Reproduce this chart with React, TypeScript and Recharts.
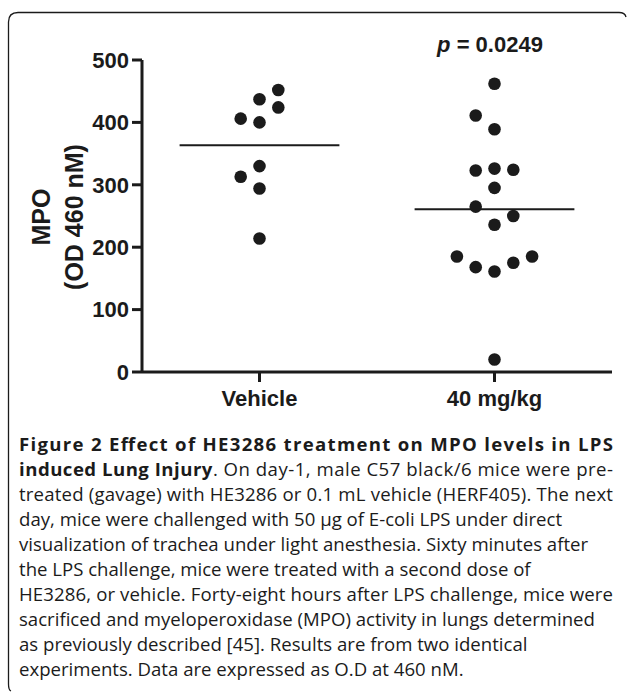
import React from 'react';
import { ScatterChart, Scatter, XAxis, YAxis, ReferenceLine } from 'recharts';

// ---- data ----
const groups = ['Vehicle', '40 mg/kg'];
const yTicks = [0, 100, 200, 300, 400, 500];
const vehicleMPO = [452, 437, 424, 406, 400, 330, 313, 294, 214];
const vehicleSlot = [1, 0, 1, -1, 0, 0, -1, 0, 0];
const treatedMPO = [462, 411, 389, 323, 326, 324, 295, 265, 250, 236, 185, 168, 161, 175, 185, 20];
const treatedSlot = [0, -1, 0, -1, 0, 1, 0, -1, 1, 0, -2, -1, 0, 1, 2, 0];
const pValue = '0.0249';
const yLabelLines = ['MPO', '(OD 460 nM)'];
const captionBoldLead = ['Figure 2 Effect of HE3286 treatment on MPO levels in LPS', 'induced Lung Injury'];
const captionLines = [
  '. On day-1, male C57 black/6 mice were pre-',
  'treated (gavage) with HE3286 or 0.1 mL vehicle (HERF405). The next',
  'day, mice were challenged with 50 \u00b5g of E-coli LPS under direct',
  'visualization of trachea under light anesthesia. Sixty minutes after',
  'the LPS challenge, mice were treated with a second dose of',
  'HE3286, or vehicle. Forty-eight hours after LPS challenge, mice were',
  'sacrificed and myeloperoxidase (MPO) activity in lungs determined',
  'as previously described [45]. Results are from two identical',
  'experiments. Data are expressed as O.D at 460 nM.',
];

// ---- style ----
const INK = '#1b1b1b';
const FONT = '"Liberation Sans", Arial, Helvetica, sans-serif';
const CAP_FONT = '"Open Sans", "Noto Sans", sans-serif';
const SLOT = 0.08;
const HALF = 0.34;

const toPoints = (vals: number[], slots: number[], g: number) =>
  vals.map((v, i) => ({ x: g + 1 + slots[i] * SLOT, y: v }));
const mean = (a: number[]) => a.reduce((s, v) => s + v, 0) / a.length;

const Dot = (props: any) => <circle cx={props.cx} cy={props.cy} r={6.3} fill={INK} />;

const vehiclePts = toPoints(vehicleMPO, vehicleSlot, 0);
const treatedPts = toPoints(treatedMPO, treatedSlot, 1);
const means = [mean(vehicleMPO), mean(treatedMPO)];

// caption layout: which lines are justified to full width
const justified: Record<number, boolean> = { 0: true, 1: true, 2: true, 6: true };

export default function App() {
  const capX = 19;
  const capFull = 594;
  const base0 = 451;
  const lh = 25;
  return (
    <div style={{ position: 'absolute', left: 0, top: 0, width: 627, height: 692, background: '#fff' }}>
      <svg width={627} height={692} style={{ position: 'absolute', left: 0, top: 0 }}>
        <path
          d="M 11 691 Q 8.5 690 8.5 684 L 8.5 22 Q 8.5 12.5 18 12.5 L 619 12.5 Q 625 12.5 626 17"
          fill="none"
          stroke={INK}
          strokeWidth={1.3}
        />
        <text x={490} y={52} textAnchor="middle" fontFamily={FONT} fontWeight={700} fontSize={22} fill={INK}>
          <tspan fontStyle="italic">p</tspan> = {pValue}
        </text>
        {yLabelLines.map((t, i) => (
          <text
            key={t}
            x={41 + i * 33}
            y={217}
            transform={`rotate(-90, ${41 + i * 33}, 217)`}
            textAnchor="middle"
            dy="0.36em"
            fontFamily={FONT}
            fontWeight={700}
            fontSize={25}
            fill={INK}
          >
            {t}
          </text>
        ))}
        <text
          x={capX}
          y={base0}
          fontFamily={CAP_FONT}
          fontWeight={700}
          fontSize={18.6}
          fill={INK}
          textLength={capFull}
          lengthAdjust="spacing"
        >
          {captionBoldLead[0]}
        </text>
        {captionLines.map((t, i) => (
          <text
            key={i}
            x={capX}
            y={base0 + (i + 1) * lh}
            fontFamily={CAP_FONT}
            fontSize={18.6}
            fill={INK}
            {...(justified[i + 1] ? { textLength: capFull, lengthAdjust: 'spacing' } : {})}
          >
            {i === 0 ? <tspan fontWeight={700}>{captionBoldLead[1]}</tspan> : null}
            {t}
          </text>
        ))}
      </svg>
      <div style={{ position: 'absolute', left: 0, top: 0 }}>
        <ScatterChart width={627} height={420} margin={{ top: 60, right: 15, bottom: 0, left: 0 }}>
          <XAxis
            type="number"
            dataKey="x"
            domain={[0.5, 2.5]}
            ticks={[1, 2]}
            interval={0}
            height={48}
            tickFormatter={(v: number) => groups[Math.round(v) - 1]}
            axisLine={{ stroke: INK, strokeWidth: 3 }}
            tickLine={{ stroke: INK, strokeWidth: 3 }}
            tickSize={10}
            tickMargin={8}
            tick={{ fill: INK, fontSize: 22, fontWeight: 700, fontFamily: FONT }}
          />
          <YAxis
            type="number"
            dataKey="y"
            domain={[0, 500]}
            ticks={yTicks}
            interval={0}
            width={142}
            axisLine={{ stroke: INK, strokeWidth: 3 }}
            tickLine={{ stroke: INK, strokeWidth: 3 }}
            tickSize={10}
            tickMargin={3}
            tick={{ fill: INK, fontSize: 22, fontWeight: 700, fontFamily: FONT }}
          />
          {means.map((m, g) => (
            <ReferenceLine
              key={g}
              segment={[
                { x: g + 1 - HALF, y: m },
                { x: g + 1 + HALF, y: m },
              ]}
              stroke={INK}
              strokeWidth={2}
            />
          ))}
          <Scatter data={vehiclePts} shape={Dot} isAnimationActive={false} />
          <Scatter data={treatedPts} shape={Dot} isAnimationActive={false} />
        </ScatterChart>
      </div>
    </div>
  );
}
